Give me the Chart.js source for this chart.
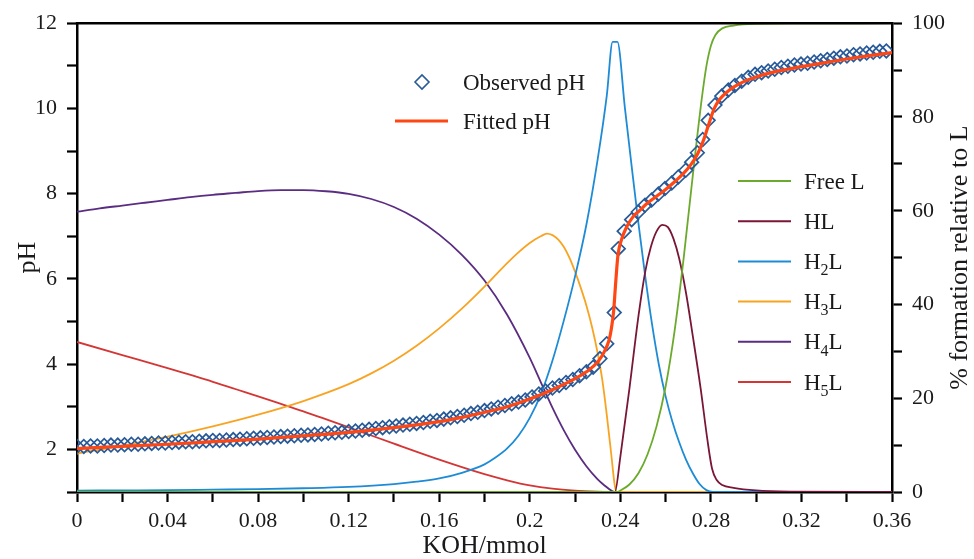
<!DOCTYPE html>
<html><head><meta charset="utf-8">
<script src="https://cdn.jsdelivr.net/npm/chart.js@4.4.1/dist/chart.umd.min.js"></script>
<style>html,body{margin:0;padding:0;background:#fff;}canvas{display:block;}</style>
</head><body>
<canvas id="c" width="974" height="559" style="width:974px;height:559px"></canvas>
<script>
const FONT = "'Liberation Serif', 'Times New Roman', serif";

// ---- tick values ----
const xMajorTicks = [0, 0.04, 0.08, 0.12, 0.16, 0.2, 0.24, 0.28, 0.32, 0.36];
const xMinorTicks = [0.02, 0.06, 0.10, 0.14, 0.18, 0.22, 0.26, 0.30, 0.34];
const pHMajorTicks = [2, 4, 6, 8, 10, 12];
const pHMinorTicks = [1, 3, 5, 7, 9, 11];
const pctMajorTicks = [0, 20, 40, 60, 80, 100];
const pctMinorTicks = [10, 30, 50, 70, 90];

// ---- observed pH ----
const observedX = [0, 0.003, 0.006, 0.009, 0.012, 0.015, 0.018, 0.021, 0.024, 0.027,
  0.030, 0.033, 0.036, 0.039, 0.042, 0.045, 0.048, 0.051, 0.054, 0.057,
  0.060, 0.063, 0.066, 0.069, 0.072, 0.075, 0.078, 0.081, 0.084, 0.087,
  0.090, 0.093, 0.096, 0.099, 0.102, 0.105, 0.108, 0.111, 0.114, 0.117,
  0.120, 0.123, 0.126, 0.129, 0.132, 0.135, 0.138, 0.141, 0.144, 0.147,
  0.150, 0.153, 0.156, 0.159, 0.162, 0.165, 0.168, 0.171, 0.174, 0.177,
  0.180, 0.183, 0.186, 0.189, 0.192, 0.195, 0.198, 0.201, 0.204, 0.207,
  0.210, 0.213, 0.216, 0.219, 0.222, 0.225, 0.228, 0.231, 0.234,
  0.2373, 0.2391, 0.2417, 0.2450, 0.2479, 0.2509, 0.2538, 0.2568, 0.2597, 0.2627,
  0.2656, 0.2689, 0.2715, 0.2740, 0.2764, 0.2788, 0.2818, 0.2848, 0.2877, 0.2906,
  0.2936, 0.2965, 0.2995,
  0.3024, 0.3053, 0.3082, 0.3111, 0.3140, 0.3169, 0.3198, 0.3227, 0.3256, 0.3285,
  0.3314, 0.3343, 0.3372, 0.3401, 0.3430, 0.3459, 0.3488, 0.3517, 0.3546, 0.3575];
const observedPH = [2.07, 2.07, 2.08, 2.08, 2.09, 2.10, 2.10, 2.11, 2.12, 2.12,
  2.13, 2.14, 2.15, 2.15, 2.16, 2.17, 2.18, 2.18, 2.19, 2.20,
  2.21, 2.21, 2.22, 2.23, 2.24, 2.25, 2.26, 2.27, 2.28, 2.29,
  2.30, 2.31, 2.32, 2.33, 2.34, 2.35, 2.36, 2.38, 2.39, 2.40,
  2.42, 2.43, 2.45, 2.47, 2.49, 2.51, 2.53, 2.55, 2.57, 2.59,
  2.61, 2.63, 2.66, 2.68, 2.71, 2.74, 2.77, 2.80, 2.84, 2.87,
  2.91, 2.95, 2.99, 3.03, 3.07, 3.11, 3.16, 3.23, 3.30, 3.37,
  3.44, 3.50, 3.57, 3.64, 3.73, 3.82, 3.93, 4.13, 4.48,
  5.21, 6.71, 7.12, 7.39, 7.57, 7.73, 7.85, 7.99, 8.12, 8.25,
  8.39, 8.55, 8.74, 8.96, 9.27, 9.72, 10.08, 10.29, 10.43, 10.54,
  10.64, 10.73, 10.80,
  10.84, 10.88, 10.92, 10.96, 10.99, 11.02, 11.04, 11.06, 11.09, 11.12,
  11.15, 11.18, 11.21, 11.23, 11.26, 11.28, 11.30, 11.32, 11.34, 11.35];

// ---- fitted pH ----
const fittedX = [0, 0.02, 0.04, 0.06, 0.08, 0.10, 0.12, 0.14, 0.16, 0.17,
  0.18, 0.19, 0.20, 0.21, 0.22, 0.225, 0.23, 0.233, 0.235, 0.236,
  0.237, 0.2378, 0.2385, 0.239, 0.2405, 0.2428, 0.2455, 0.2486, 0.252, 0.256,
  0.260, 0.264, 0.268, 0.271, 0.274, 0.2765, 0.279, 0.2815, 0.284, 0.287,
  0.290, 0.295, 0.30, 0.31, 0.32, 0.33, 0.34, 0.35, 0.36];
const fittedPH = [2.02, 2.07, 2.12, 2.18, 2.24, 2.32, 2.40, 2.51, 2.65, 2.75,
  2.87, 3.00, 3.18, 3.40, 3.66, 3.82, 4.05, 4.30, 4.56, 4.82,
  5.22, 5.80, 6.30, 6.58, 6.92, 7.22, 7.45, 7.61, 7.78, 7.94,
  8.10, 8.28, 8.48, 8.67, 8.92, 9.22, 9.62, 10.00, 10.22, 10.38,
  10.50, 10.64, 10.74, 10.88, 10.98, 11.07, 11.16, 11.24, 11.31];

// ---- species distribution (% relative to L) ----
const freeLX = [0, 0.2385, 0.240, 0.244, 0.248, 0.252, 0.256, 0.260, 0.264, 0.268, 0.272, 0.276, 0.278, 0.280, 0.282, 0.285, 0.290, 0.300, 0.320, 0.360];
const freeLPct = [0, 0, 0.3, 1.6, 4.0, 8.0, 14.0, 22.5, 34.5, 50.0, 67.5, 84.0, 90.8, 95.2, 97.5, 98.9, 99.5, 99.85, 99.95, 100];

const hlX = [0, 0.2376, 0.240, 0.244, 0.248, 0.251, 0.2535, 0.256, 0.2585, 0.261, 0.2635, 0.266, 0.269, 0.272, 0.2755, 0.2785, 0.2805, 0.2825, 0.285, 0.290, 0.300, 0.315, 0.360];
const hlPct = [0, 0, 7.5, 22.0, 37.5, 47.0, 52.3, 55.6, 57.0, 56.5, 54.0, 49.8, 42.5, 33.3, 22.0, 11.0, 5.0, 2.6, 1.5, 0.9, 0.35, 0.1, 0];

const h2lX = [0, 0.02, 0.04, 0.06, 0.08, 0.10, 0.12, 0.14, 0.15, 0.16, 0.17, 0.18, 0.185, 0.19, 0.195, 0.20, 0.205, 0.21, 0.215, 0.22, 0.225, 0.23, 0.234, 0.2366,
  0.2387, 0.242, 0.245, 0.248, 0.251, 0.254, 0.257, 0.260, 0.263, 0.266, 0.269, 0.272, 0.275, 0.278, 0.281, 0.36];
const h2lPct = [0.3, 0.35, 0.4, 0.5, 0.6, 0.8, 1.1, 1.7, 2.2, 2.9, 4.1, 5.9, 7.4, 9.3, 12.0, 15.8, 21.0, 28.0, 36.5, 46.0, 57.0, 71.0, 84.5, 96.0,
  96.0, 82.0, 69.5, 57.3, 46.0, 35.8, 27.2, 20.4, 15.0, 10.6, 6.9, 4.0, 1.7, 0.4, 0, 0];

const h3lX = [0, 0.02, 0.04, 0.06, 0.08, 0.10, 0.12, 0.13, 0.14, 0.15, 0.16, 0.17, 0.18, 0.19, 0.195, 0.20, 0.205, 0.2075, 0.21, 0.2125, 0.215, 0.2175, 0.22, 0.2225, 0.225, 0.2275, 0.23, 0.232, 0.234, 0.236, 0.2375, 0.2383, 0.30, 0.36];
const h3lPct = [8.2, 9.9, 11.8, 14.0, 16.5, 19.4, 23.0, 25.3, 28.0, 31.2, 34.9, 39.1, 43.8, 48.8, 51.1, 53.1, 54.6, 55.1, 54.8, 53.9, 52.3, 50.0, 47.0, 43.6, 39.8, 35.2, 29.6, 24.0, 16.5, 8.0, 1.5, 0, 0, 0];

const h4lX = [0, 0.01, 0.02, 0.03, 0.04, 0.05, 0.06, 0.07, 0.08, 0.09, 0.10, 0.11, 0.12, 0.13, 0.14, 0.15, 0.16, 0.17, 0.18, 0.19, 0.20, 0.205, 0.21, 0.215, 0.22, 0.225, 0.23, 0.233, 0.236, 0.2375, 0.30, 0.36];
const h4lPct = [59.8, 60.5, 61.1, 61.7, 62.3, 62.9, 63.4, 63.8, 64.2, 64.4, 64.4, 64.15, 63.6, 62.5, 60.8, 58.3, 54.9, 50.6, 45.1, 37.8, 28.6, 23.3, 18.0, 13.2, 9.0, 5.5, 2.7, 1.4, 0.3, 0, 0, 0];

const h5lX = [0, 0.02, 0.04, 0.06, 0.08, 0.10, 0.12, 0.14, 0.16, 0.18, 0.19, 0.20, 0.21, 0.22, 0.23, 0.24, 0.30, 0.36];
const h5lPct = [32.0, 29.2, 26.4, 23.5, 20.4, 17.2, 13.8, 10.3, 6.9, 3.8, 2.5, 1.4, 0.7, 0.3, 0.1, 0, 0, 0];

const speciesNames = ['Free L', 'HL', 'H2L', 'H3L', 'H4L', 'H5L'];
const speciesColors = ['#6BAA2C', '#7A1636', '#1E8BD6', '#F8A422', '#5A2D82', '#D43636'];
const speciesX = [freeLX, hlX, h2lX, h3lX, h4lX, h5lX];
const speciesPct = [freeLPct, hlPct, h2lPct, h3lPct, h4lPct, h5lPct];

const FIT_COLOR = '#FF4716';
const OBS_COLOR = '#285A98';

const pts = (xs, ys) => xs.map((x, i) => ({ x, y: ys[i] }));

const datasets = [
  { label: 'Fitted pH', data: pts(fittedX, fittedPH), yAxisID: 'y', showLine: true,
    borderColor: FIT_COLOR, borderWidth: 3.2, pointRadius: 0, cubicInterpolationMode: 'monotone', order: 0 },
  { label: 'Observed pH', data: pts(observedX, observedPH), yAxisID: 'y', showLine: false,
    pointStyle: 'rectRot', pointRadius: 6.8, pointBorderWidth: 1.7, pointBorderColor: OBS_COLOR,
    pointBackgroundColor: 'rgba(0,0,0,0)', borderColor: OBS_COLOR, backgroundColor: 'rgba(0,0,0,0)', order: 1 }
];
speciesNames.forEach((n, k) => {
  datasets.push({ label: n, data: pts(speciesX[k], speciesPct[k]), yAxisID: 'y2', showLine: true,
    borderColor: speciesColors[k], borderWidth: 1.8, pointRadius: 0,
    cubicInterpolationMode: 'monotone', order: 2 + k });
});

const tickSet = (major, minor) => (scale) => {
  scale.ticks = major.concat(minor).sort((a, b) => a - b).map(v => ({ value: v }));
};
const tickLabel = (major) => (v) => major.includes(v) ? String(v) : '';

const gridOpts = { drawOnChartArea: false, drawTicks: true, tickLength: 10, tickWidth: 2.2, tickColor: '#000' };
const borderOpts = { color: '#000', width: 2.5 };
const tickFont = { family: FONT, size: 22 };
const TXT = '#1a1a1a';

function drawRich(ctx, text, x, yMid, size) {
  // draws text with digits as subscripts
  const base = yMid + size * 0.33;
  let cx = x;
  for (const ch of text) {
    if (/[0-9]/.test(ch)) {
      ctx.font = `${Math.round(size * 0.68)}px ${FONT}`;
      ctx.fillText(ch, cx, base + size * 0.27);
      cx += ctx.measureText(ch).width;
    } else {
      ctx.font = `${size}px ${FONT}`;
      ctx.fillText(ch, cx, base);
      cx += ctx.measureText(ch).width;
    }
  }
}

const decor = {
  id: 'decor',
  afterDraw(chart) {
    const { ctx, chartArea: a } = chart;
    ctx.save();
    // top frame
    ctx.strokeStyle = '#000'; ctx.lineWidth = 2.5;
    ctx.beginPath(); ctx.moveTo(a.left - 1.25, a.top); ctx.lineTo(a.right + 1.25, a.top); ctx.stroke();

    // right axis title (reads bottom-to-top)
    ctx.save();
    ctx.fillStyle = TXT; ctx.font = `26px ${FONT}`;
    ctx.translate(960, (a.top + a.bottom) / 2); ctx.rotate(-Math.PI / 2);
    ctx.textAlign = 'center'; ctx.textBaseline = 'middle';
    ctx.fillText('% formation relative to L', 0, 0);
    ctx.restore();

    // pH legend
    ctx.fillStyle = TXT; ctx.textAlign = 'left'; ctx.textBaseline = 'alphabetic';
    ctx.strokeStyle = OBS_COLOR; ctx.lineWidth = 1.6;
    const dx = 422, dy = 82, r = 7;
    ctx.beginPath(); ctx.moveTo(dx - r, dy); ctx.lineTo(dx, dy - r); ctx.lineTo(dx + r, dy); ctx.lineTo(dx, dy + r); ctx.closePath(); ctx.stroke();
    drawRich(ctx, 'Observed pH', 463, 82, 23);
    ctx.strokeStyle = FIT_COLOR; ctx.lineWidth = 3.2;
    ctx.beginPath(); ctx.moveTo(395, 121); ctx.lineTo(448, 121); ctx.stroke();
    drawRich(ctx, 'Fitted pH', 463, 121, 23);

    // species legend
    speciesNames.forEach((n, k) => {
      const y = 181 + k * 40.2;
      ctx.strokeStyle = speciesColors[k]; ctx.lineWidth = 2;
      ctx.beginPath(); ctx.moveTo(738, y); ctx.lineTo(791, y); ctx.stroke();
      ctx.fillStyle = TXT;
      drawRich(ctx, n, 804, y, 23);
    });
    ctx.restore();
  }
};

new Chart(document.getElementById('c'), {
  type: 'scatter',
  data: { datasets },
  options: {
    responsive: false, animation: false,
    layout: { padding: { top: 23, left: 0, right: 0, bottom: 0 } },
    plugins: { legend: { display: false }, tooltip: { enabled: false } },
    scales: {
      x: {
        type: 'linear', position: 'bottom', min: 0, max: 0.36,
        afterBuildTicks: tickSet(xMajorTicks, xMinorTicks),
        ticks: { callback: tickLabel(xMajorTicks), font: tickFont, color: TXT, padding: 6, maxRotation: 0, autoSkip: false },
        grid: gridOpts, border: borderOpts,
        title: { display: true, text: 'KOH/mmol', color: TXT, font: { family: FONT, size: 26, lineHeight: 1 }, padding: { top: 0, bottom: 0 } },
        afterFit: s => { s.height = 67; }
      },
      y: {
        type: 'linear', position: 'left', min: 1, max: 12,
        afterBuildTicks: tickSet(pHMajorTicks, pHMinorTicks),
        ticks: { callback: tickLabel(pHMajorTicks), font: tickFont, color: TXT, padding: 10, autoSkip: false },
        grid: gridOpts, border: borderOpts,
        title: { display: true, text: 'pH', color: TXT, font: { family: FONT, size: 26, lineHeight: 1 }, padding: { top: 15, bottom: 0 } },
        afterFit: s => { s.width = 77; }
      },
      y2: {
        type: 'linear', position: 'right', min: 0, max: 100,
        afterBuildTicks: tickSet(pctMajorTicks, pctMinorTicks),
        ticks: { callback: tickLabel(pctMajorTicks), font: tickFont, color: TXT, padding: 10, autoSkip: false },
        grid: gridOpts, border: borderOpts,
        afterFit: s => { s.width = 82; }
      }
    }
  },
  plugins: [decor]
});
</script>
</body></html>
